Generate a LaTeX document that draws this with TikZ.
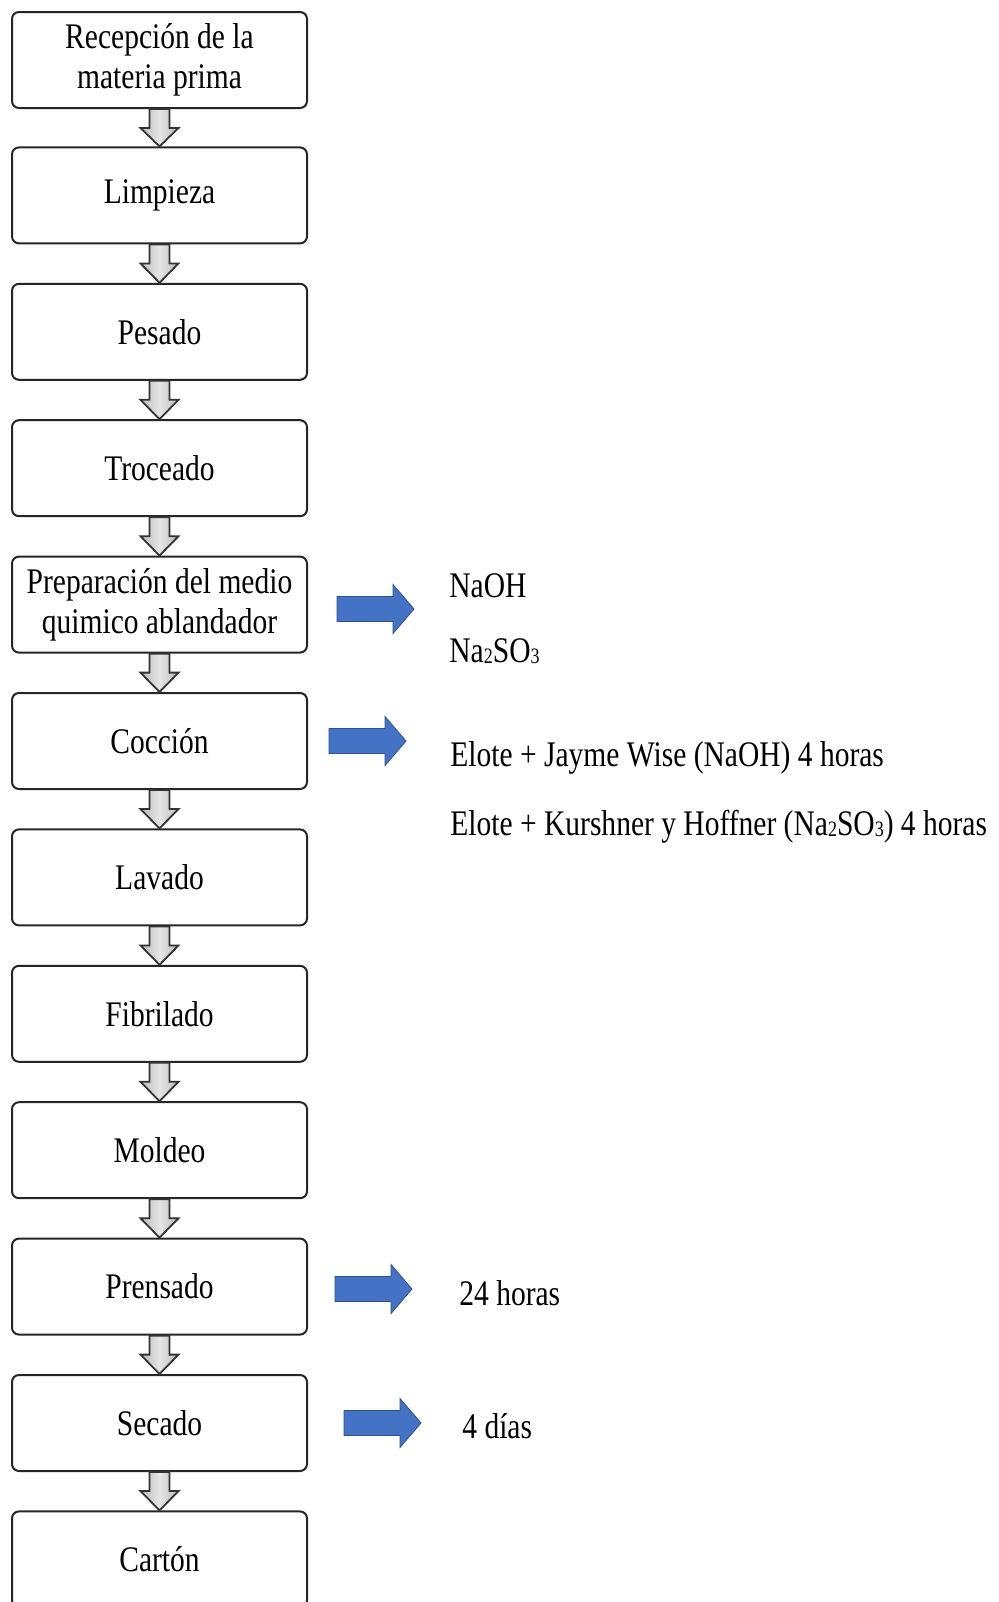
\documentclass[tikz,border=0pt]{standalone}
\usepackage{fontspec}
\setmainfont{Liberation Serif}[FakeStretch=0.82]
\usetikzlibrary{calc}
\definecolor{arrblue}{HTML}{4472C4}
\definecolor{arrblueedge}{HTML}{2F528F}
\definecolor{boxedge}{HTML}{262626}
\definecolor{grayedge}{HTML}{333333}
\newcommand{\chemsub}[1]{\raisebox{-0.6pt}{\fontsize{11pt}{11pt}\selectfont #1}}
\begin{document}
\begin{tikzpicture}[x=0.5pt,y=-0.5pt,
  stepbox/.style={draw=boxedge, line width=1pt, rounded corners=3.5pt, fill=white,
    minimum width=147.5pt, minimum height=48pt, align=center, inner sep=0pt,
    font=\fontsize{18pt}{20pt}\selectfont},
  sidetext/.style={anchor=base west, inner sep=0pt, font=\fontsize{18pt}{20pt}\selectfont},
  grayarr/.style={draw=grayedge, line width=0.9pt, line join=miter,
    left color=gray!55, right color=gray!55, middle color=gray!20},
  bluearr/.style={fill=arrblue, draw=arrblueedge, line width=0.4pt},
  barrow/.pic={\path[bluearr] (0,-12.5) -- (56,-12.5) -- (56,-24.5) -- (77,0) -- (56,24.5) -- (56,12.5) -- (0,12.5) -- cycle;}]
\useasboundingbox (0,0) rectangle (998,1602);
\clip (0,0) rectangle (998,1602);
\fill[white] (0,0) rectangle (998,1602);

\node[stepbox] (b1) at (159.5,60) {Recepción de la\\materia prima};
\node[stepbox] (b2) at (159.5,195.4) {Limpieza};
\node[stepbox] (b3) at (159.5,331.8) {Pesado};
\node[stepbox] (b4) at (159.5,468.2) {Troceado};
\node[stepbox] (b5) at (159.5,604.6) {Preparación del medio\\quimico ablandador};
\node[stepbox] (b6) at (159.5,741) {Cocción};
\node[stepbox] (b7) at (159.5,877.4) {Lavado};
\node[stepbox] (b8) at (159.5,1013.8) {Fibrilado};
\node[stepbox] (b9) at (159.5,1150.2) {Moldeo};
\node[stepbox] (b10) at (159.5,1286.6) {Prensado};
\node[stepbox] (b11) at (159.5,1423) {Secado};
\node[stepbox] (b12) at (159.5,1559.4) {Cartón};

\foreach \i [evaluate=\i as \j using {int(\i+1)}] in {1,...,11}{
  \path[grayarr] ($(b\i.south)+(-10,0)$) -- ($(b\i.south)+(10,0)$) -- ($(b\i.south)+(10,19)$)
    -- ($(b\i.south)+(19,19)$) -- (b\j.north) -- ($(b\i.south)+(-19,19)$)
    -- ($(b\i.south)+(-10,19)$) -- cycle;
}

\pic (a1) at (337,609) {barrow};
\pic (a2) at (329,741) {barrow};
\pic (a3) at (335,1289) {barrow};
\pic (a4) at (344,1423) {barrow};

\node[sidetext] (t1) at (449,597) {NaOH};
\node[sidetext] (t2) at (449,662) {Na\chemsub{2}SO\chemsub{3}};
\node[sidetext] (t3) at (450,766) {Elote + Jayme Wise (NaOH) 4 horas};
\node[sidetext] (t4) at (450,835) {Elote + Kurshner y Hoffner (Na\chemsub{2}SO\chemsub{3}) 4 horas};
\node[sidetext] (t5) at (459,1305) {24 horas};
\node[sidetext] (t6) at (462,1438) {4 días};
\end{tikzpicture}
\end{document}
